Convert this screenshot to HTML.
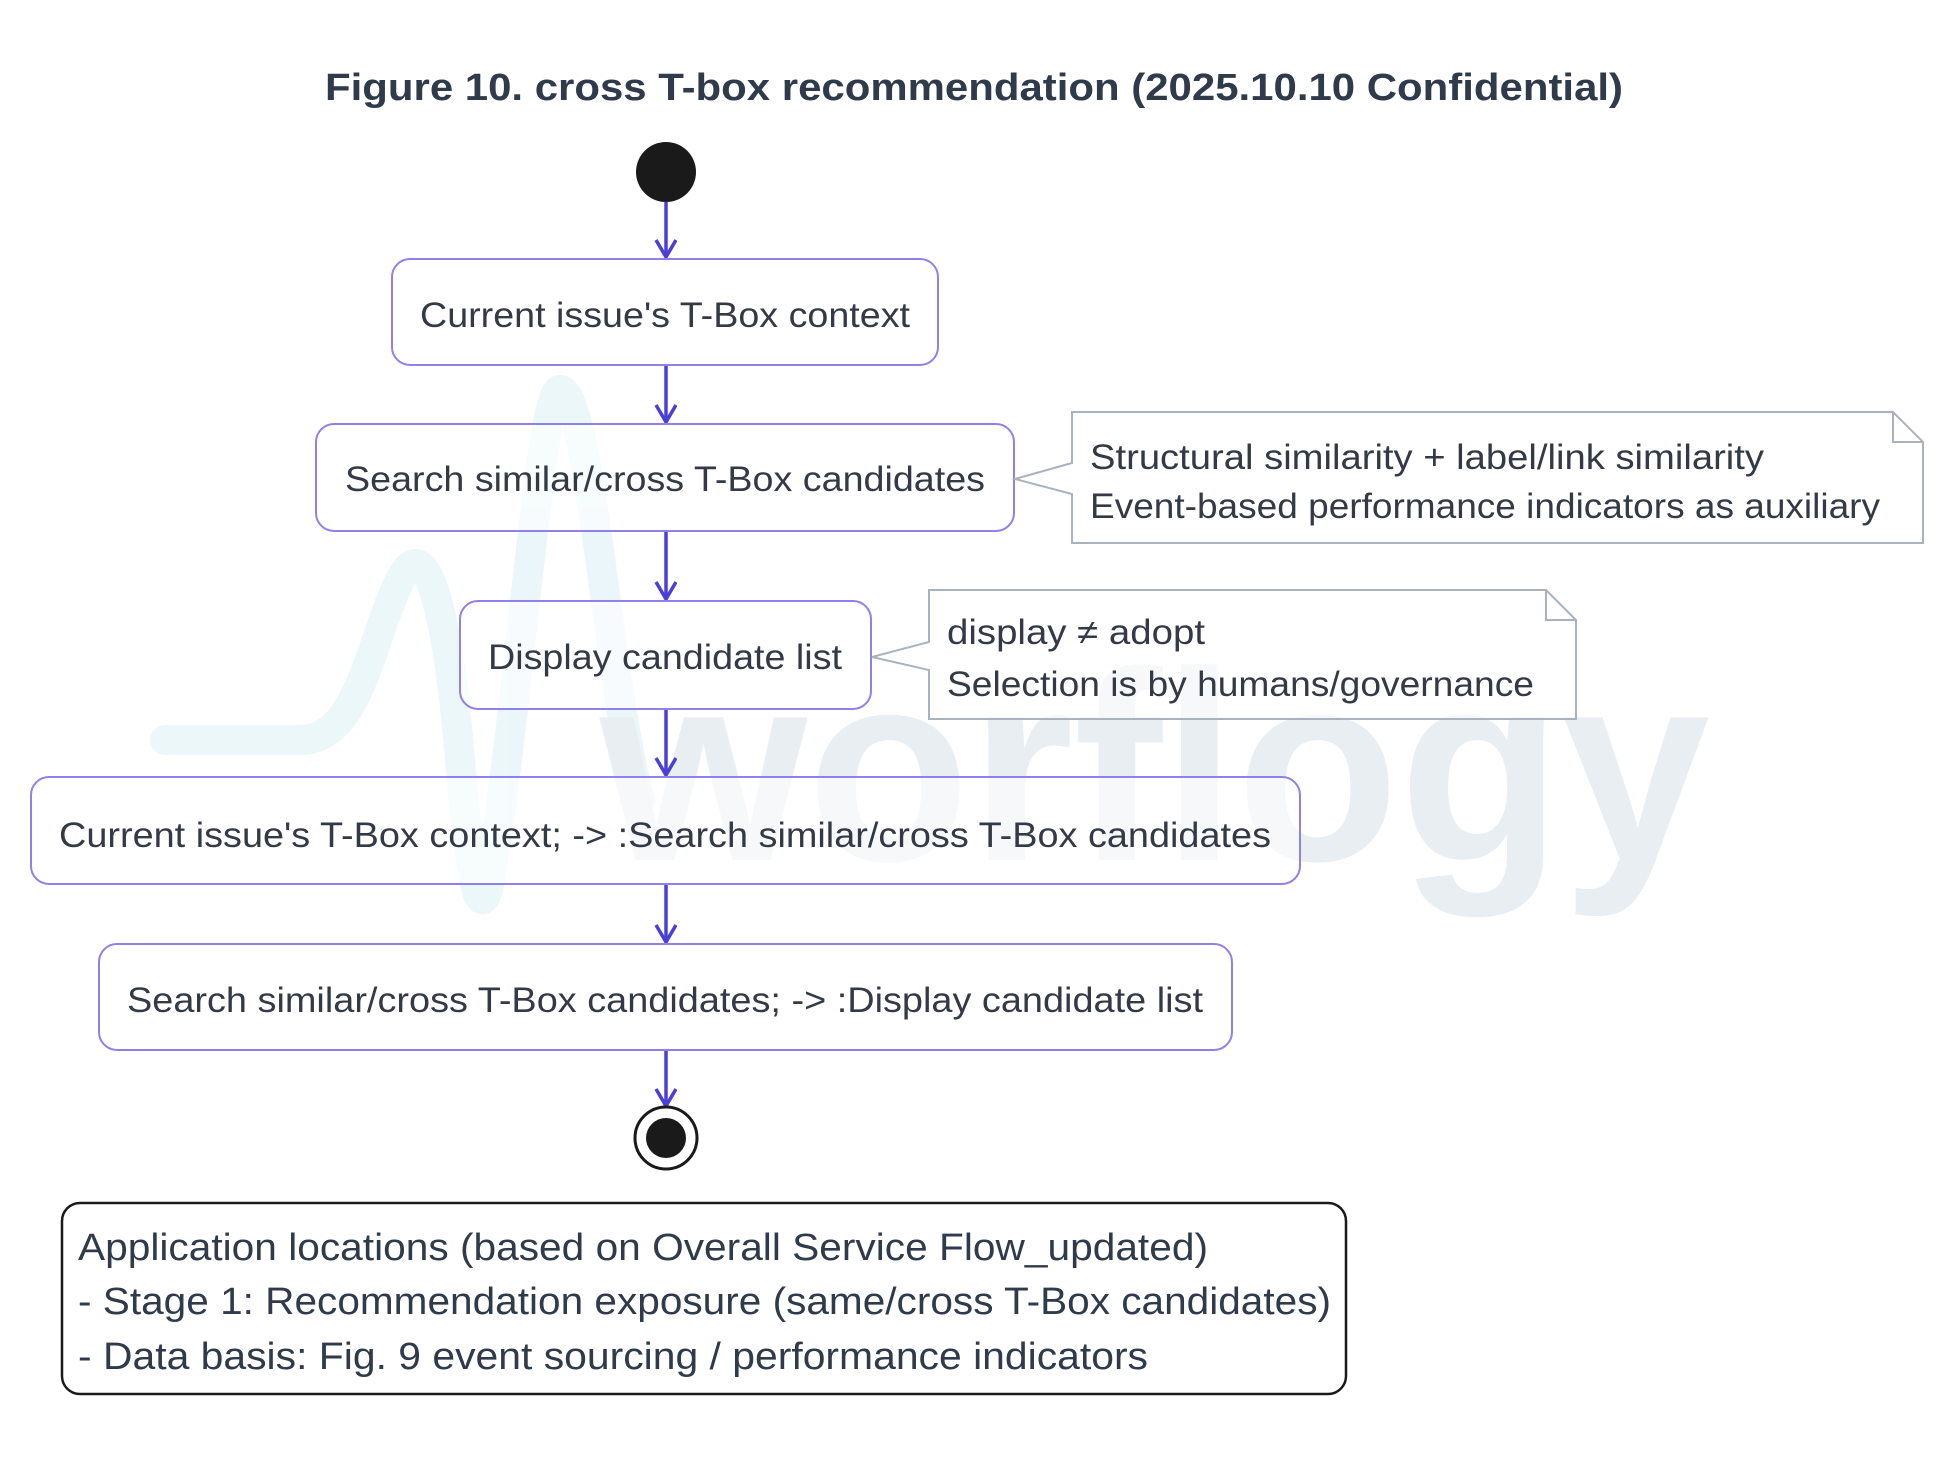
<!DOCTYPE html>
<html><head><meta charset="utf-8"><style>
html,body{margin:0;padding:0;background:#fff;}
svg{display:block;}
text{font-family:"Liberation Sans",sans-serif;fill:#333a46;}
</style></head><body>
<svg width="1949" height="1458" viewBox="0 0 1949 1458" xmlns="http://www.w3.org/2000/svg">
<defs>
<marker id="ah" markerWidth="22" markerHeight="24" refX="18" refY="11" orient="auto" markerUnits="userSpaceOnUse">
<path d="M1,1 L18,11 L1,21" fill="none" stroke="#4a3fd6" stroke-width="3.5"/>
</marker>
</defs>
<text x="974" y="100" text-anchor="middle" font-size="38" font-weight="bold" textLength="1298" lengthAdjust="spacingAndGlyphs" style="fill:#2f3a4a">Figure 10. cross T-box recommendation (2025.10.10 Confidential)</text>

<g opacity="0.3">
<path d="M165,740 H300 C360,740 370,640 400,580 C430,520 450,640 460,760 C470,880 480,930 490,880 C520,700 540,390 560,390 C590,390 610,700 640,800" fill="none" stroke="#bfe3ef" stroke-width="30" stroke-linecap="round"/>
<text x="600" y="860" font-size="270" font-weight="bold" textLength="1110" lengthAdjust="spacingAndGlyphs" style="fill:#b7c8da">worflogy</text>
</g>

<circle cx="666" cy="172" r="30" fill="#1a1a1a"/>
<g stroke="#4a3fd6" stroke-width="3.5" fill="none">
<line x1="666" y1="202" x2="666" y2="257" marker-end="url(#ah)"/>
<line x1="666" y1="366" x2="666" y2="422" marker-end="url(#ah)"/>
<line x1="666" y1="532" x2="666" y2="599" marker-end="url(#ah)"/>
<line x1="666" y1="710" x2="666" y2="775" marker-end="url(#ah)"/>
<line x1="666" y1="885" x2="666" y2="942" marker-end="url(#ah)"/>
<line x1="666" y1="1051" x2="666" y2="1106" marker-end="url(#ah)"/>
</g>
<g fill="#fff" fill-opacity="0.6" stroke="#8f80ec" stroke-width="2">
<rect x="392" y="259" width="546" height="106" rx="18"/>
<rect x="316" y="424" width="698" height="107" rx="18"/>
<rect x="460" y="601" width="411" height="108" rx="18"/>
<rect x="31" y="777" width="1269" height="107" rx="18"/>
<rect x="99" y="944" width="1133" height="106" rx="18"/>
</g>
<g font-size="35">
<text x="665" y="327" text-anchor="middle" textLength="490" lengthAdjust="spacingAndGlyphs">Current issue's T-Box context</text>
<text x="665" y="491" text-anchor="middle" textLength="640" lengthAdjust="spacingAndGlyphs">Search similar/cross T-Box candidates</text>
<text x="665" y="669" text-anchor="middle" textLength="354" lengthAdjust="spacingAndGlyphs">Display candidate list</text>
<text x="665" y="847" text-anchor="middle" textLength="1212" lengthAdjust="spacingAndGlyphs">Current issue's T-Box context; -&gt; :Search similar/cross T-Box candidates</text>
<text x="665" y="1012" text-anchor="middle" textLength="1076" lengthAdjust="spacingAndGlyphs">Search similar/cross T-Box candidates; -&gt; :Display candidate list</text>
</g>

<g fill="#fff" fill-opacity="0.6" stroke="#a9b2be" stroke-width="2">
<path d="M1072,412 H1893 L1923,442 V543 H1072 V494 L1015,479 L1072,463 Z"/>
<path d="M1893,412 V442 H1923" fill="none"/>
<path d="M929,590 H1546 L1576,620 V719 H929 V670 L872,657 L929,642 Z"/>
<path d="M1546,590 V620 H1576" fill="none"/>
</g>
<g font-size="35">
<text x="1090" y="469" textLength="674" lengthAdjust="spacingAndGlyphs">Structural similarity + label/link similarity</text>
<text x="1090" y="518" textLength="790" lengthAdjust="spacingAndGlyphs">Event-based performance indicators as auxiliary</text>
<text x="947" y="644" textLength="258" lengthAdjust="spacingAndGlyphs">display ≠ adopt</text>
<text x="947" y="696" textLength="587" lengthAdjust="spacingAndGlyphs">Selection is by humans/governance</text>
</g>

<circle cx="666" cy="1138" r="31" fill="#fff" stroke="#1a1a1a" stroke-width="3"/>
<circle cx="666" cy="1138" r="20" fill="#1a1a1a"/>

<rect x="62" y="1203" width="1284" height="191" rx="18" fill="#fff" stroke="#1a1a1a" stroke-width="2.5"/>
<g font-size="38">
<text x="78" y="1260" textLength="1130" lengthAdjust="spacingAndGlyphs" style="fill:#2f3a4a">Application locations (based on Overall Service Flow_updated)</text>
<text x="78" y="1314" textLength="1253" lengthAdjust="spacingAndGlyphs" style="fill:#2f3a4a">- Stage 1: Recommendation exposure (same/cross T-Box candidates)</text>
<text x="78" y="1369" textLength="1070" lengthAdjust="spacingAndGlyphs" style="fill:#2f3a4a">- Data basis: Fig. 9 event sourcing / performance indicators</text>
</g>
</svg>
</body></html>
